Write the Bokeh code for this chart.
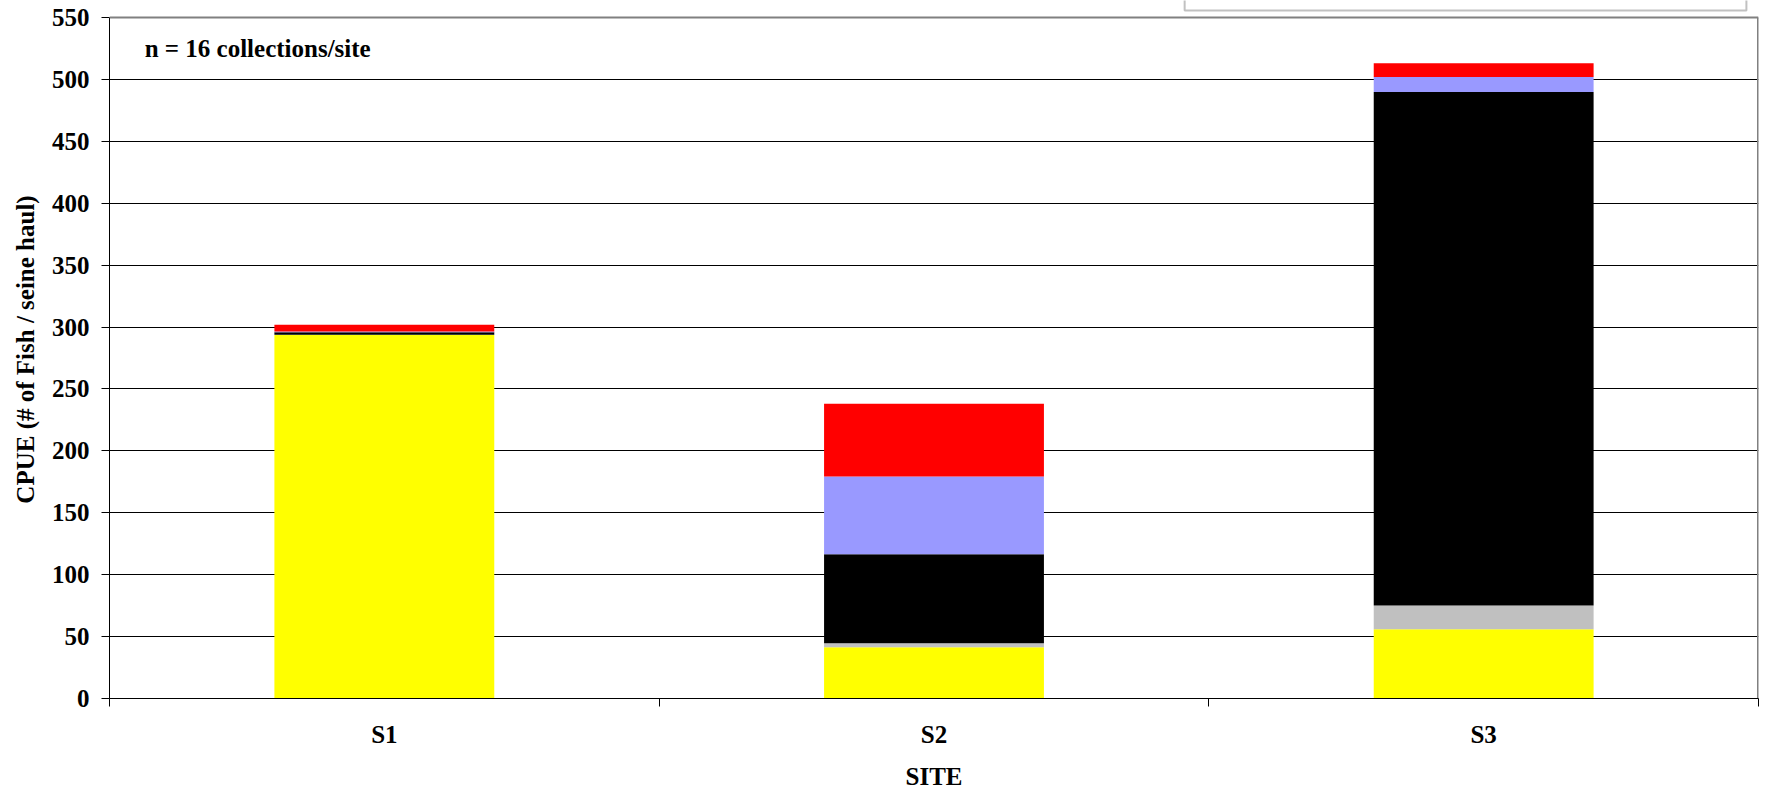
from bokeh.plotting import figure
from bokeh.models import Range1d, FixedTicker, Label, ColumnDataSource, BoxAnnotation, Span
from bokeh.embed import file_html
from bokeh.resources import INLINE

sites = ["S1", "S2", "S3"]
yellow_vals = [293.5, 41.4, 55.9]
grey_vals = [0.3, 3.2, 19.3]
black_vals = [2.0, 71.8, 414.6]
blue_vals = [0.5, 62.9, 12.1]
red_vals = [5.5, 58.8, 11.2]
y_ticks = list(range(0, 551, 50))
y_max = 550

series = ["yellow", "grey", "black", "blue", "red"]
colors = ["#FFFF00", "#C0C0C0", "#000000", "#9999FF", "#FF0000"]

xpos = [i + 0.5 for i in range(len(sites))]
src = ColumnDataSource(dict(x=xpos, yellow=yellow_vals, grey=grey_vals,
                            black=black_vals, blue=blue_vals, red=red_vals))

FONT = "Liberation Serif"
FS = "25px"
FRAME_TOP_PAD = 17  # px above the 550 line (room for the legend box edge)
FRAME_H = 699
top_val = y_max * FRAME_H / (FRAME_H - FRAME_TOP_PAD)

p = figure(width=1765, height=792, x_range=Range1d(0, 3), y_range=Range1d(0, top_val),
           output_backend="svg", toolbar_location=None,
           min_border_left=109, min_border_right=7, min_border_top=0, min_border_bottom=93)

p.vbar_stack(series, x="x", width=0.4, color=colors, line_width=0, source=src)

p.ygrid.ticker = FixedTicker(ticks=y_ticks[:-1])
p.ygrid.grid_line_color = "#000000"
p.ygrid.grid_line_width = 1
p.xgrid.grid_line_color = None
p.outline_line_color = None

# plot-area border: top and right edges
p.add_layout(Span(location=y_max, dimension="width", line_color="#808080", line_width=2))
p.segment(x0=[3], y0=[0], x1=[3], y1=[y_max], line_color="#808080", line_width=3)

ya = p.yaxis[0]
ya.ticker = FixedTicker(ticks=y_ticks)
ya.bounds = (0, y_max)
ya.axis_label = "CPUE (# of Fish / seine haul)"
ya.axis_label_text_font = FONT
ya.axis_label_text_font_style = "bold"
ya.axis_label_text_font_size = FS
ya.axis_label_text_color = "#000000"
ya.axis_label_standoff = 10
ya.major_label_text_font = FONT
ya.major_label_text_font_style = "bold"
ya.major_label_text_font_size = FS
ya.major_label_text_color = "#000000"
ya.major_label_standoff = 12
ya.major_tick_out = 8
ya.major_tick_in = 0
ya.minor_tick_out = 0
ya.minor_tick_in = 0
ya.axis_line_color = "#000000"
ya.major_tick_line_color = "#000000"

xa = p.xaxis[0]
xa.ticker = FixedTicker(ticks=xpos, minor_ticks=[0, 1, 2, 3])
xa.major_label_overrides = {x: s for x, s in zip(xpos, sites)}
xa.axis_label = "SITE"
xa.axis_label_text_font = FONT
xa.axis_label_text_font_style = "bold"
xa.axis_label_text_font_size = FS
xa.axis_label_text_color = "#000000"
xa.axis_label_standoff = 12
xa.major_label_text_font = FONT
xa.major_label_text_font_style = "bold"
xa.major_label_text_font_size = FS
xa.major_label_text_color = "#000000"
xa.major_label_standoff = 14
xa.major_tick_out = 0
xa.major_tick_in = 0
xa.minor_tick_out = 8
xa.minor_tick_in = 0
xa.axis_line_color = "#000000"
xa.minor_tick_line_color = "#000000"

p.add_layout(Label(x=0.064, y=524.6, text="n = 16 collections/site", text_font=FONT,
                   text_font_style="bold", text_font_size=FS, text_color="#000000",
                   text_baseline="middle"))

# bottom of the cut-off legend box above the plot area
p.add_layout(BoxAnnotation(left=1.956, right=2.978, bottom=555.7, top=top_val + 20,
                           fill_color="white", fill_alpha=1.0,
                           line_color="#333333", line_width=2))

open("out.html", "w").write(file_html(p, INLINE))
